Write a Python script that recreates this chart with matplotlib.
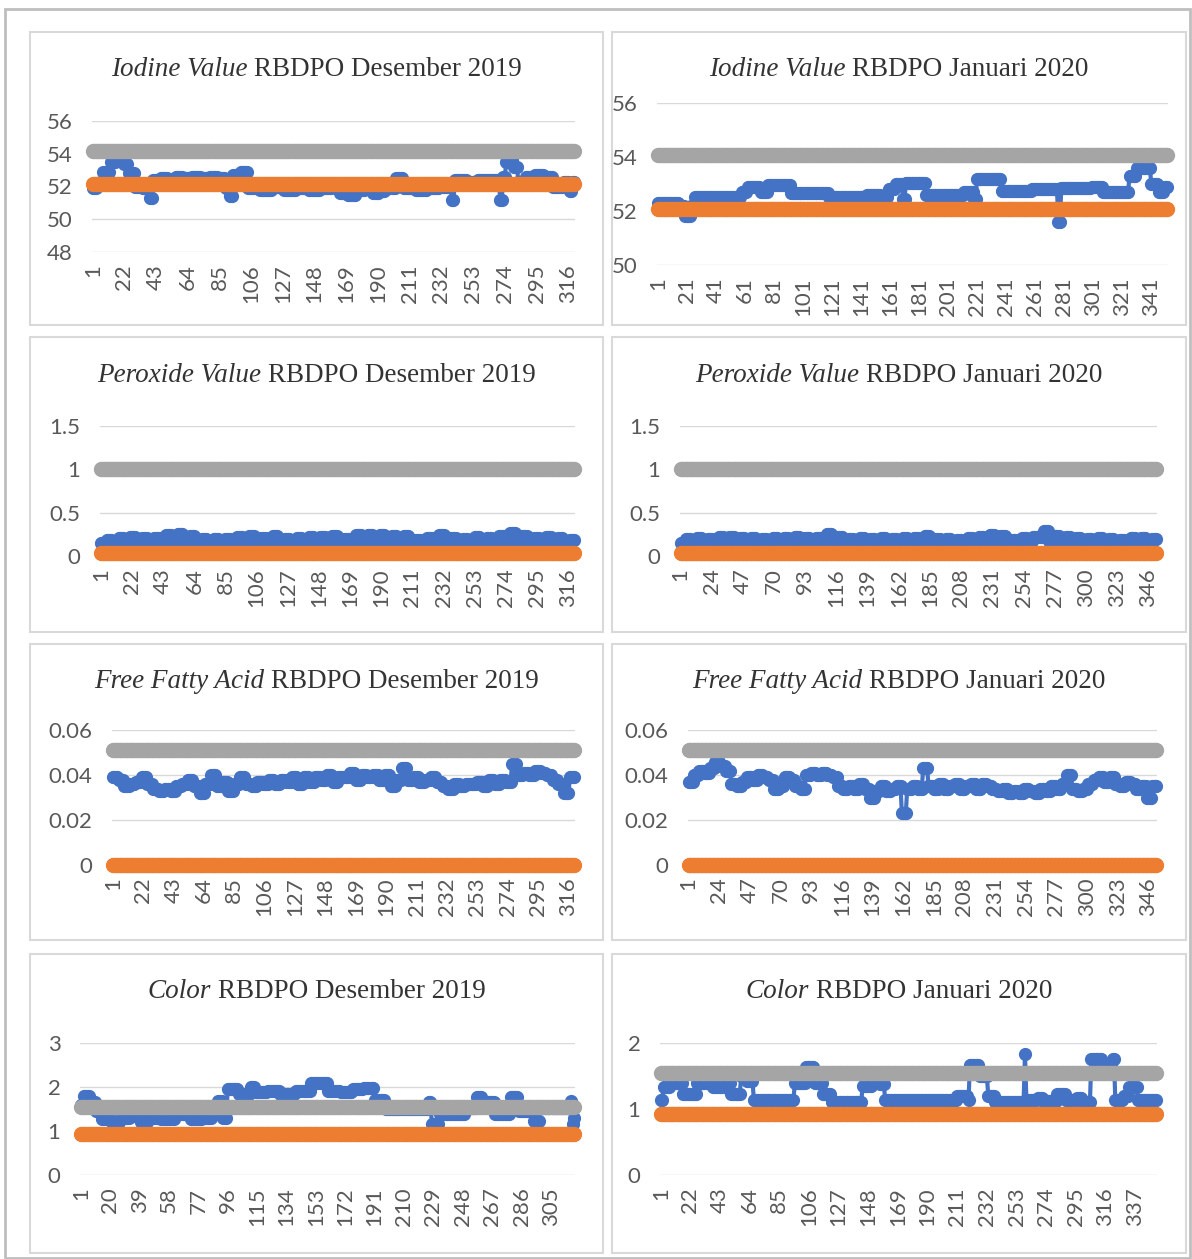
import numpy as np
import matplotlib
matplotlib.use('Agg')
import matplotlib.pyplot as plt
from matplotlib.patches import Rectangle

# ---- data (run-length: value, number of consecutive samples) ----
# Iodine Value
iv_dec_val = [51.9, 52.2, 52.9, 53.5, 53.8, 53.4, 52.8, 52.0, 51.9, 51.3,
              52.4, 52.5, 52.4, 52.6,
              52.5, 52.6, 52.5, 52.6, 52.5,
              51.9, 51.4, 52.7, 52.9,
              51.9, 51.8, 52.0, 51.8, 51.9, 51.8, 51.9, 52.0,
              51.6, 51.5, 51.8, 51.9, 51.6, 51.7, 51.9, 52.5,
              51.9, 51.8, 51.9, 52.0, 51.2,
              52.4, 52.3, 52.4, 52.4, 51.2,
              52.6, 53.5, 53.6, 53.2, 52.3,
              52.6, 52.7, 52.6, 52.0, 52.3, 51.7, 52.3]
iv_dec_len = [3, 4, 5, 4, 5, 3, 4, 5, 5, 2,
              5, 5, 5, 5,
              6, 6, 6, 5, 5,
              3, 2, 5, 5,
              8, 8, 8, 8, 8, 8, 8, 5,
              5, 6, 6, 5, 4, 4, 7, 5,
              8, 8, 8, 8, 2,
              8, 7, 8, 7, 2,
              2, 2, 3, 3, 5,
              6, 6, 6, 7, 4, 2, 2]
iv_jan_val = [52.3, 52.2, 51.8, 52.2, 52.5, 52.7, 52.9, 52.7, 52.95, 52.65,
              52.5, 52.6, 52.5, 52.8, 53.0, 52.45, 53.05, 52.6, 52.7, 52.45,
              53.2, 52.75, 52.8, 51.6, 52.85, 52.9, 52.7, 53.3, 53.6, 53.0,
              52.7, 52.9]
iv_jan_len = [15, 4, 4, 3, 32, 4, 9, 5, 16, 26,
              26, 10, 5, 5, 5, 2, 14, 26, 7, 2,
              17, 21, 18, 2, 21, 8, 18, 5, 10, 5,
              4, 3]

# Peroxide Value (blocks of 4 samples)
pv_dec_val = [0.15, 0.19, 0.16, 0.21, 0.17, 0.22, 0.16, 0.21, 0.17, 0.21,
              0.16, 0.24, 0.19, 0.25, 0.17, 0.23, 0.16, 0.20, 0.15, 0.20,
              0.16, 0.20, 0.17, 0.22, 0.16, 0.23, 0.17, 0.21, 0.16, 0.23,
              0.17, 0.20, 0.16, 0.21, 0.17, 0.22, 0.16, 0.22, 0.17, 0.23,
              0.16, 0.20, 0.18, 0.24, 0.17, 0.24, 0.18, 0.24, 0.17, 0.23,
              0.16, 0.23, 0.16, 0.19, 0.17, 0.21, 0.16, 0.24, 0.17, 0.21,
              0.16, 0.20, 0.17, 0.22, 0.16, 0.21, 0.17, 0.23, 0.19, 0.26,
              0.17, 0.23, 0.16, 0.21, 0.17, 0.22, 0.16, 0.21, 0.15, 0.19]
pv_jan_val = [0.15, 0.20, 0.16, 0.21, 0.16, 0.20, 0.17, 0.22, 0.17, 0.22,
              0.16, 0.21, 0.16, 0.21, 0.16, 0.20, 0.17, 0.21, 0.17, 0.21,
              0.17, 0.22, 0.16, 0.21, 0.17, 0.21, 0.19, 0.25, 0.17, 0.22,
              0.16, 0.20, 0.16, 0.21, 0.16, 0.20, 0.16, 0.21, 0.16, 0.20,
              0.16, 0.21, 0.16, 0.21, 0.17, 0.23, 0.16, 0.20, 0.16, 0.20,
              0.15, 0.19, 0.16, 0.21, 0.17, 0.22, 0.18, 0.24, 0.17, 0.23,
              0.15, 0.19, 0.16, 0.21, 0.17, 0.22, 0.22, 0.29, 0.17, 0.23,
              0.17, 0.22, 0.16, 0.21, 0.16, 0.20, 0.16, 0.21, 0.16, 0.20,
              0.15, 0.18, 0.16, 0.21, 0.16, 0.21, 0.16, 0.20]

# Free Fatty Acid (blocks of 4 samples)
ffa_dec_val = [0.039, 0.038, 0.035, 0.036, 0.037, 0.039, 0.036, 0.034, 0.033, 0.034,
               0.033, 0.035, 0.036, 0.038, 0.035, 0.032, 0.036, 0.040, 0.035, 0.037,
               0.033, 0.036, 0.039, 0.036, 0.035, 0.037, 0.036, 0.038, 0.036, 0.038,
               0.037, 0.039, 0.036, 0.039, 0.037, 0.039, 0.038, 0.040, 0.037, 0.039,
               0.039, 0.041, 0.038, 0.040, 0.039, 0.040, 0.038, 0.040, 0.035, 0.038,
               0.043, 0.038, 0.039, 0.037, 0.038, 0.039, 0.037, 0.035, 0.034, 0.036,
               0.035, 0.036, 0.036, 0.037, 0.035, 0.038, 0.036, 0.038, 0.037, 0.045,
               0.040, 0.041, 0.040, 0.042, 0.041, 0.040, 0.038, 0.036, 0.032, 0.039]
ffa_jan_val = [0.037, 0.040, 0.042, 0.041, 0.043, 0.046, 0.044, 0.042, 0.036, 0.035,
               0.037, 0.039, 0.038, 0.040, 0.039, 0.038, 0.034, 0.035, 0.039, 0.038,
               0.035, 0.034, 0.040, 0.041, 0.040, 0.041, 0.040, 0.039, 0.035, 0.034,
               0.035, 0.034, 0.036, 0.034, 0.030, 0.033, 0.035, 0.033, 0.034, 0.035,
               0.023, 0.034, 0.035, 0.034, 0.043, 0.035, 0.034, 0.036, 0.034, 0.035,
               0.036, 0.034, 0.035, 0.036, 0.034, 0.036, 0.035, 0.034, 0.033, 0.034,
               0.032, 0.033, 0.032, 0.034, 0.033, 0.032, 0.034, 0.033, 0.035, 0.034,
               0.036, 0.040, 0.034, 0.033, 0.034, 0.036, 0.038, 0.039, 0.037, 0.039,
               0.036, 0.035, 0.037, 0.036, 0.034, 0.035, 0.030, 0.035]

# Color
col_dec_val = [1.6, 1.8, 1.65, 1.45, 1.27, 1.2, 1.3, 1.35, 1.2, 1.3,
               1.27, 1.38, 1.27, 1.3, 1.38, 1.68, 1.3, 1.95, 1.85, 2.0,
               1.88, 1.92, 1.85, 1.9, 2.08, 1.92, 1.88, 1.95, 1.97, 1.7,
               1.5, 1.65, 1.15, 1.38, 1.53, 1.77, 1.65, 1.38, 1.77, 1.45,
               1.22, 1.53, 1.68, 1.15, 1.3]
col_dec_len = [2, 4, 4, 4, 6, 6, 6, 7, 5, 8,
               9, 10, 8, 6, 4, 3, 3, 7, 8, 3,
               8, 8, 10, 10, 11, 8, 8, 7, 7, 7,
               28, 2, 5, 17, 7, 4, 8, 10, 5, 10,
               4, 20, 1, 1, 1]
col_jan_val = [1.13, 1.33, 1.4, 1.23, 1.4, 1.33, 1.4, 1.23, 1.5, 1.43,
               1.13, 1.4, 1.64, 1.4, 1.23, 1.1, 1.35, 1.5, 1.38, 1.13,
               1.2, 1.13, 1.66, 1.5, 1.2, 1.1, 1.84,
               1.13, 1.17, 1.12, 1.22, 1.13, 1.17, 1.1,
               1.76, 1.68, 1.76, 1.13, 1.2, 1.33, 1.13]
col_jan_len = [2, 5, 9, 10, 11, 10, 3, 7, 4, 5,
               29, 8, 6, 6, 6, 22, 7, 5, 4, 51,
               8, 1, 7, 6, 5, 21, 1,
               8, 4, 10, 6, 8, 4, 6,
               8, 7, 2, 6, 4, 6, 14]

# control limits (lower = orange, upper = grey)
iv_dec_lim = [52.15, 54.15]
iv_jan_lim = [52.07, 54.07]
pv_lim = [0.03, 1.0]
ffa_lim = [0.0, 0.051]
col_lim = [0.93, 1.55]

BLUE = '#4472C4'
ORANGE = '#ED7D31'
GREY = '#A5A5A5'
W, H = 1192, 1259

fig = plt.figure(figsize=(W / 100, H / 100), dpi=100)
fig.patch.set_facecolor('white')
renderer = fig.canvas.get_renderer()


def box(x0, y0, x1, y1, color, lw):
    fig.add_artist(Rectangle((x0 / W, 1 - y1 / H), (x1 - x0) / W, (y1 - y0) / H,
                             transform=fig.transFigure, fill=False, ec=color, lw=lw))


def title(cx, cy, ital, rest):
    fs = 19.5
    kw = dict(family='Liberation Serif', fontsize=fs, color='#333333', va='center')
    t1 = fig.text(0, cy, ital, fontstyle='italic', **kw)
    t2 = fig.text(0, cy, rest, **kw)
    w1 = t1.get_window_extent(renderer).width
    w2 = t2.get_window_extent(renderer).width
    gap = fs * 100 / 72 * 0.25
    x0 = cx - (w1 + gap + w2) / 2
    t1.set_x(x0 / W)
    t2.set_x((x0 + w1 + gap) / W)


def panel(rect, y, lim, yticks, ylabels, step, boxr, ital, rest):
    x0, x1, yt, yb = rect
    ax = fig.add_axes([x0 / W, 1 - yb / H, (x1 - x0) / W, (yb - yt) / H])
    n = len(y)
    x = np.arange(1, n + 1)
    ax.plot(x, y, color=BLUE, lw=3, marker='o', ms=8.5, mec=BLUE, clip_on=False, zorder=3)
    ax.plot(x, [lim[0]] * n, color=ORANGE, lw=4, marker='o', ms=10, mec=ORANGE,
            clip_on=False, zorder=4)
    ax.plot(x, [lim[1]] * n, color=GREY, lw=4, marker='o', ms=10, mec=GREY,
            clip_on=False, zorder=5)
    ax.set_xlim(0.5, n + 0.5)
    ax.set_ylim(yticks[0], yticks[-1])
    ax.set_yticks(yticks, ylabels)
    xt = np.arange(1, n + 1, step)
    ax.set_xticks(xt, [str(v) for v in xt], rotation=90)
    ax.grid(axis='y', color='#D9D9D9', lw=1)
    ax.grid(axis='x', visible=False)
    ax.set_axisbelow(True)
    for s in ax.spines.values():
        s.set_visible(False)
    ax.set_facecolor('none')
    ax.tick_params(axis='both', length=0, labelcolor='#595959', labelsize=16)
    ax.tick_params(axis='y', pad=14)
    ax.tick_params(axis='x', pad=9)
    for lab in ax.get_xticklabels() + ax.get_yticklabels():
        lab.set_family('Lato')
    box(*boxr, '#D9D9D9', 1.5)
    title((boxr[0] + boxr[2]) / 2, 1 - (boxr[1] + 38) / H, ital, rest)
    return ax


box(5, 9, 1190, 1258, '#BFBFBF', 2)

L = (30, 603)
R = (612, 1186)
rows = [(32, 325), (337, 632), (644, 940), (954, 1253)]

panel((92, 575, 121, 252), np.repeat(iv_dec_val, iv_dec_len), iv_dec_lim,
      [48, 50, 52, 54, 56], ['48', '50', '52', '54', '56'], 21,
      (L[0], rows[0][0], L[1], rows[0][1]), 'Iodine Value', 'RBDPO Desember 2019')
panel((657, 1168, 103, 265), np.repeat(iv_jan_val, iv_jan_len), iv_jan_lim,
      [50, 52, 54, 56], ['50', '52', '54', '56'], 20,
      (R[0], rows[0][0], R[1], rows[0][1]), 'Iodine Value', 'RBDPO Januari 2020')
panel((100, 575, 426, 556), np.repeat(pv_dec_val, 4), pv_lim,
      [0, 0.5, 1, 1.5], ['0', '0.5', '1', '1.5'], 21,
      (L[0], rows[1][0], L[1], rows[1][1]), 'Peroxide Value', 'RBDPO Desember 2019')
panel((680, 1157, 426, 556), np.repeat(pv_jan_val, 4), pv_lim,
      [0, 0.5, 1, 1.5], ['0', '0.5', '1', '1.5'], 23,
      (R[0], rows[1][0], R[1], rows[1][1]), 'Peroxide Value', 'RBDPO Januari 2020')
panel((112, 575, 730, 865), np.repeat(ffa_dec_val, 4), ffa_lim,
      [0, 0.02, 0.04, 0.06], ['0', '0.02', '0.04', '0.06'], 21,
      (L[0], rows[2][0], L[1], rows[2][1]), 'Free Fatty Acid', 'RBDPO Desember 2019')
panel((688, 1157, 730, 865), np.repeat(ffa_jan_val, 4), ffa_lim,
      [0, 0.02, 0.04, 0.06], ['0', '0.02', '0.04', '0.06'], 23,
      (R[0], rows[2][0], R[1], rows[2][1]), 'Free Fatty Acid', 'RBDPO Januari 2020')
panel((80, 575, 1043, 1175), np.repeat(col_dec_val, col_dec_len), col_lim,
      [0, 1, 2, 3], ['0', '1', '2', '3'], 19,
      (L[0], rows[3][0], L[1], rows[3][1]), 'Color', 'RBDPO Desember 2019')
panel((660, 1157, 1043, 1175), np.repeat(col_jan_val, col_jan_len), col_lim,
      [0, 1, 2], ['0', '1', '2'], 21,
      (R[0], rows[3][0], R[1], rows[3][1]), 'Color', 'RBDPO Januari 2020')

fig.savefig('out.png', dpi=100, facecolor='white')
